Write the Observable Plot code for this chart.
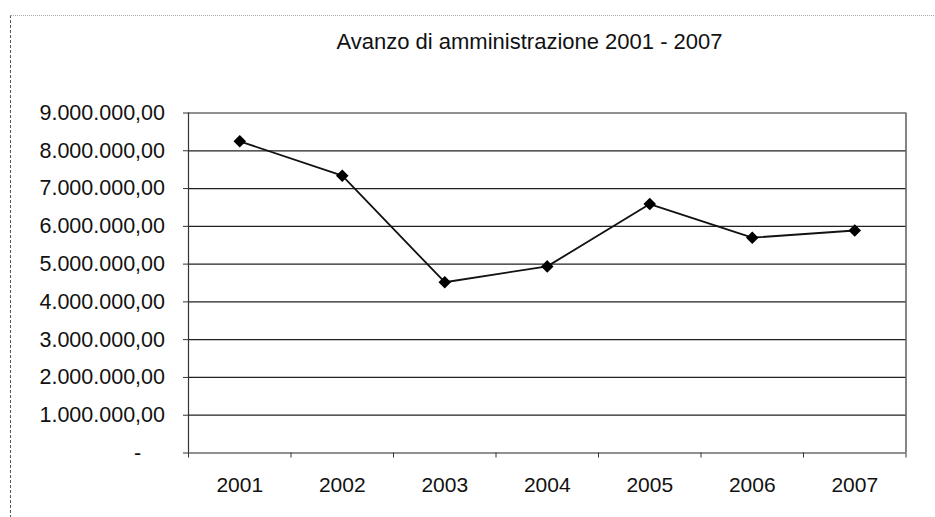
<!DOCTYPE html>
<html>
<head>
<meta charset="utf-8">
<script src="https://cdn.jsdelivr.net/npm/d3@7"></script>
<script src="https://cdn.jsdelivr.net/npm/@observablehq/plot@0.6"></script>
<style>
  html, body { margin: 0; padding: 0; background: #fff; overflow: hidden; width: 935px; height: 517px; }
  body { font-family: "Liberation Sans", Arial, sans-serif; position: relative; }
  #frame { position: absolute; left: 10px; top: 15px; width: 925px; height: 502px;
           border-left: 1px dashed #555; border-top: 1px dotted #aaa; pointer-events: none; }
  #title { position: relative; height: 90px; }
  #title span { position: absolute; left: 529.5px; top: 29px; transform: translateX(-50%);
                white-space: nowrap; font-size: 22px; line-height: 26px; color: #111; }
  #chart svg { display: block; }
</style>
</head>
<body>
<div id="frame"></div>
<div id="title"><span>Avanzo di amministrazione 2001 - 2007</span></div>
<div id="chart"></div>
<script>
const years = [2001, 2002, 2003, 2004, 2005, 2006, 2007];
const avanzo = [8250000, 7340000, 4520000, 4940000, 6590000, 5700000, 5890000];
const yTicks = [0, 1000000, 2000000, 3000000, 4000000, 5000000, 6000000, 7000000, 8000000, 9000000];

const data = years.map((year, i) => ({year, value: avanzo[i]}));
const boundaries = [years[0] - 0.5, ...years.map(y => y + 0.5)];

const it = d3.formatLocale({decimal: ",", thousands: ".", grouping: [3], currency: ["", "€"]});
const fmt = it.format(",.2f");
const yFormat = d => d === 0 ? "-\u2007\u2007" : fmt(d);

const chart = Plot.plot({
  width: 935,
  height: 427,
  marginLeft: 188,
  marginRight: 29.5,
  marginTop: 22.5,
  marginBottom: 64.5,
  style: {fontFamily: "'Liberation Sans', Arial, sans-serif", fontSize: "21px", color: "#111", background: "transparent"},
  x: {type: "linear", domain: [years[0] - 0.5, years[years.length - 1] + 0.5]},
  y: {domain: [0, 9000000]},
  marks: [
    Plot.ruleY(yTicks, {stroke: "#222", strokeWidth: 1.2}),
    Plot.ruleX([boundaries[0], boundaries[boundaries.length - 1]], {stroke: "#333", strokeWidth: 1.2}),
    Plot.axisY({ticks: yTicks, tickFormat: yFormat, tickSize: 5, tickPadding: 18.5, label: null, stroke: "#333", fontSize: 21.5}),
    Plot.axisX({ticks: boundaries, tickFormat: () => "", tickSize: 5, label: null, stroke: "#333"}),
    Plot.axisX({ticks: years, tickFormat: d => String(d), tickSize: 0, tickPadding: 24, label: null, fontSize: 21}),
    Plot.line(data, {x: "year", y: "value", stroke: "#111", strokeWidth: 1.8}),
    Plot.dot(data, {x: "year", y: "value", symbol: "diamond2", r: 4.7, fill: "#000", stroke: "#000"})
  ]
});
document.getElementById("chart").appendChild(chart);
</script>
</body>
</html>
